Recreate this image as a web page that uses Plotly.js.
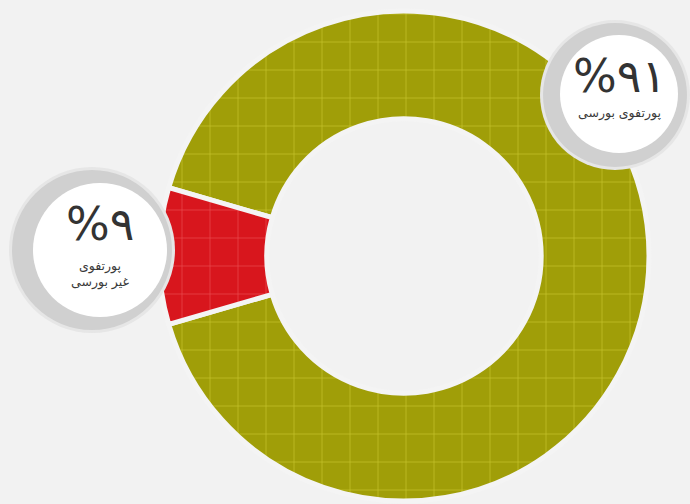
<!DOCTYPE html>
<html>
<head>
<meta charset="utf-8">
<script src="https://cdn.plot.ly/plotly-3.0.1.min.js"></script>
<style>html,body{margin:0;padding:0;background:#f2f2f2;}#chart{width:690px;height:504px;}</style>
</head>
<body>
<div id="chart"></div>
<script>
// Data
const categories = ['پورتفوی بورسی', 'پورتفوی غیر بورسی'];
const values = [91, 9];
const percentLabels = ['%۹۱', '%۹'];
const subLabels = ['پورتفوی بورسی', 'پورتفوی<br>غیر بورسی'];
const sliceColors = ['#a09e08', '#d8161d'];
const gridColors = ['#c4c22a', '#e8484c'];

const W = 690, H = 504;
const px = x => x / W;
const py = y => 1 - y / H;

function circle(cx, cy, r, fill) {
  return {type: 'circle', xref: 'paper', yref: 'paper', layer: 'above',
    x0: px(cx - r), x1: px(cx + r), y0: py(cy + r), y1: py(cy - r),
    fillcolor: fill, line: {width: 0}};
}

const trace = {
  type: 'pie',
  labels: categories,
  values: values,
  sort: false,
  direction: 'clockwise',
  rotation: -73.8,
  hole: 0.56,
  textinfo: 'none',
  hoverinfo: 'none',
  showlegend: false,
  marker: {
    colors: sliceColors,
    line: {color: '#f4f4f4', width: 5},
    pattern: {shape: '+', fgcolor: gridColors, bgcolor: sliceColors, size: 28, solidity: 0.05, fillmode: 'replace'}
  },
  domain: {x: [px(404 - 245), px(404 + 245)], y: [py(256 + 245), py(256 - 245)]}
};

// label badge positions (pixels) per category
const badge = [
  {cx: 619, cy: 94, r: 59, gx: 615, gy: 95, gr: 72, pctY: 76, subY: 113},
  {cx: 100, cy: 250, r: 67, gx: 92, gy: 250, gr: 80, pctY: 224, subY: 274}
];

const shapes = [];
const annotations = [];
badge.forEach((b, i) => {
  shapes.push(circle(b.gx, b.gy, b.gr + 3, '#e6e6e6'));
  shapes.push(circle(b.gx, b.gy, b.gr, '#d0d0d0'));
  shapes.push(circle(b.cx, b.cy, b.r, '#ffffff'));
  annotations.push({xref: 'paper', yref: 'paper', x: px(b.cx), y: py(b.pctY),
    text: percentLabels[i], showarrow: false, xanchor: 'center', yanchor: 'middle',
    font: {family: 'DejaVu Sans', size: 46, color: '#333333'}});
  annotations.push({xref: 'paper', yref: 'paper', x: px(b.cx), y: py(b.subY),
    text: subLabels[i], showarrow: false, xanchor: 'center', yanchor: 'middle',
    font: {family: 'DejaVu Sans', size: 12.5, color: '#3a3a3a'}});
});

const layout = {
  width: W, height: H,
  margin: {l: 0, r: 0, t: 0, b: 0},
  paper_bgcolor: '#f2f2f2',
  plot_bgcolor: '#f2f2f2',
  shapes: shapes,
  annotations: annotations
};

Plotly.newPlot('chart', [trace], layout, {displayModeBar: false, staticPlot: true});
</script>
</body>
</html>
